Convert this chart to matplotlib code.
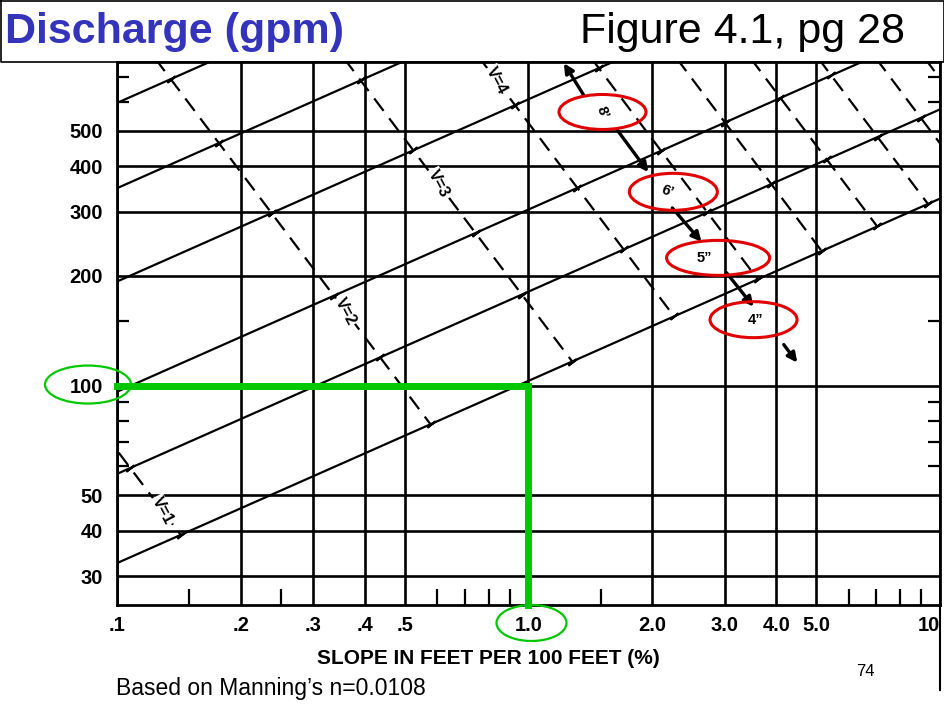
import numpy as np
import matplotlib
matplotlib.use("Agg")
import matplotlib.pyplot as plt
from matplotlib.patches import Ellipse
from matplotlib.lines import Line2D
from matplotlib.ticker import NullFormatter
from matplotlib.transforms import ScaledTranslation

plt.rcParams["font.family"] = ["Liberation Sans", "DejaVu Sans"]

# ---- axis ticks -------------------------------------------------------
slope_ticks = [0.1, 0.2, 0.3, 0.4, 0.5, 1.0, 2.0, 3.0, 4.0, 5.0, 10]
slope_tick_labels = [".1", ".2", ".3", ".4", ".5", "1.0", "2.0", "3.0", "4.0", "5.0", "10"]
slope_minor = [0.15, 0.25, 0.6, 0.7, 0.8, 0.9, 1.5, 6, 7, 8, 9]
flow_ticks = [30, 40, 50, 100, 200, 300, 400, 500]
flow_tick_labels = ["30", "40", "50", "100", "200", "300", "400", "500"]
flow_minor = [60, 70, 80, 90, 150, 600, 700]

# ---- full-pipe capacity lines: Q = q1 * sqrt(S), q1 = gpm at 1 % slope --
pipe_sizes = ['4"', '5"', '6"', '8"', '10"', '12"']
pipe_flow_at_1pct = [103, 181, 304, 610, 1100, 1885]

# ---- constant-velocity lines: Q = k * S^-1.5, k = gpm at 1 % slope -------
velocities = [1, 2, 3, 4, 5, 6, 7, 8, 9, 10]          # ft/s
velocity_flow_at_1pct = [2.1, 34.4, 168, 525, 1340, 2740, 5100, 9000, 14600, 22000]

# ---- worked example -----------------------------------------------------
example_flow = 100      # gpm
example_slope = 1.0     # %

W, H = 945, 710
fig = plt.figure(figsize=(W / 100, H / 100), dpi=100)
ax = fig.add_axes([117 / W, 1 - 605 / H, (940 - 117) / W, (605 - 62) / H])
ax.set_xscale("log")
ax.set_yscale("log")
ax.set_xlim(0.1, 10)
ax.set_ylim(25, 772)

# ticks and grid
ax.set_xticks(slope_ticks, slope_tick_labels)
ax.set_xticks(slope_minor, minor=True)
ax.set_yticks(flow_ticks, flow_tick_labels)
ax.set_yticks(flow_minor, minor=True)
ax.xaxis.set_minor_formatter(NullFormatter())
ax.yaxis.set_minor_formatter(NullFormatter())
ax.tick_params(which="major", length=0)
ax.tick_params(axis="x", which="major", pad=8, labelsize=14.5)
ax.tick_params(axis="y", which="major", pad=10, labelsize=14.5)
ax.tick_params(axis="x", which="minor", direction="in", length=11.5, width=1.6)
ax.tick_params(axis="y", which="minor", direction="in", length=8.5, width=1.6,
               left=True, right=True)
for lab in ax.get_xticklabels() + ax.get_yticklabels():
    lab.set_fontweight("bold")
ax.get_xticklabels()[-1].set_ha("right")
ax.grid(True, which="major", color="black", lw=1.9)
ax.set_axisbelow(True)
for sp in ax.spines.values():
    sp.set_linewidth(2)
    sp.set_color("black")

# pipe capacity lines
s_line = np.geomspace(0.08, 12, 60)
for q1 in pipe_flow_at_1pct:
    ax.plot(s_line, q1 * np.sqrt(s_line), color="black", lw=1.6, zorder=3)

# velocity lines, drawn from the smallest pipe upward, with cross ticks
q_small = pipe_flow_at_1pct[0]
for k in velocity_flow_at_1pct:
    s_end = np.sqrt(k / q_small)
    s_start = (k / 2000.0) ** (2.0 / 3.0)
    s = np.geomspace(s_start, s_end, 80)
    ax.plot(s, k * s ** -1.5, color="black", lw=1.6, ls=(0, (7.0, 4.2)), zorder=3)
    s_x = np.sqrt(k / np.array(pipe_flow_at_1pct))
    q_x = np.array(pipe_flow_at_1pct) * np.sqrt(s_x)
    ax.plot(s_x, q_x, ls="none", marker=(2, 2, -53), markersize=7.5,
            mew=1.6, color="black", zorder=3)

# velocity labels on the first four lines
for v, k, s_lab in zip(velocities[:4], velocity_flow_at_1pct[:4],
                       [0.129, 0.359, 0.604, 0.837]):
    ax.text(s_lab, k * s_lab ** -1.5, f"V={v}", rotation=-62, fontsize=11.5,
            fontweight="bold", ha="center", va="center", zorder=4,
            bbox=dict(boxstyle="square,pad=0.08", fc="white", ec="none"))

# worked example path
ax.plot([ax.get_xlim()[0], example_slope, example_slope],
        [example_flow, example_flow, ax.get_ylim()[0]],
        color="#00C800", lw=5, solid_joinstyle="miter", zorder=5, clip_on=False)


def ring(x, y, w_px, h_px, color, lw, dx_px=0.0, dy_px=0.0):
    tr = fig.dpi_scale_trans + ScaledTranslation(x, y, ax.transData)
    e = Ellipse((dx_px / 100, dy_px / 100), w_px / 100, h_px / 100,
                transform=tr, fill=False, edgecolor=color, lw=lw,
                clip_on=False, zorder=7)
    ax.add_artist(e)


ring(ax.get_xlim()[0], example_flow, 86, 38, "#00C800", 1.6, dx_px=-29, dy_px=1)
ring(example_slope, ax.get_ylim()[0], 70, 36, "#00C800", 1.6, dx_px=3, dy_px=-18)

# pipe size call-outs
callouts = [
    ("8’", 1.513, 563, 87, 35, -70, 0),
    ("6’", 2.249, 340, 88, 37, -20, -6),
    ("5”", 2.889, 224, 103, 35, 0, -14),
    ("4”", 3.523, 151.6, 87, 36, 0, 2),
]
for txt, sx, qy, w, h, rot, tdx in callouts:
    ring(sx, qy, w, h, "#E00000", 2.2)
    ax.annotate(txt, (sx, qy), xytext=(tdx * 0.72, 0), textcoords="offset points",
                rotation=rot, fontsize=10.5, fontweight="bold",
                ha="center", va="center", zorder=8)

arrows = [
    ((1.362, 626), (1.219, 766)),
    ((1.642, 503), (1.955, 385)),
    ((2.236, 307), (2.632, 248)),
    ((3.027, 204), (3.523, 164.6)),
    ((4.172, 129.5), (4.5, 115.6)),
]
for tail, head in arrows:
    ax.annotate("", xy=head, xytext=tail,
                arrowprops=dict(arrowstyle="-|>", color="black", lw=2.4,
                                mutation_scale=14, shrinkA=0, shrinkB=0),
                zorder=6)

# slide furniture
fig.add_artist(Line2D([0.5 / W, 944.5 / W, 944.5 / W, 0.5 / W, 0.5 / W],
                      [1 - 0.5 / H, 1 - 0.5 / H, 1 - 62 / H, 1 - 62 / H, 1 - 0.5 / H],
                      transform=fig.transFigure, color="black", lw=1.2))
fig.add_artist(Line2D([940 / W, 940 / W], [1 - 605 / H, 1 - 690 / H],
                      transform=fig.transFigure, color="black", lw=1.5))

fig.text(5 / W, 1 - 43 / H, "Discharge (gpm)", fontsize=31, fontweight="bold",
         color="#3333BB", ha="left", va="baseline")
fig.text(905 / W, 1 - 43 / H, "Figure 4.1, pg 28", fontsize=31,
         color="black", ha="right", va="baseline")
fig.text(488 / W, 1 - 658 / H, "SLOPE IN FEET PER 100 FEET (%)", fontsize=15,
         fontweight="bold", ha="center", va="center")
fig.text(865 / W, 1 - 672 / H, "74", fontsize=12, ha="center", va="center")
fig.text(116 / W, 1 - 688 / H, "Based on Manning’s n=0.0108", fontsize=16.5,
         ha="left", va="center")

fig.savefig("out.png", dpi=100)
